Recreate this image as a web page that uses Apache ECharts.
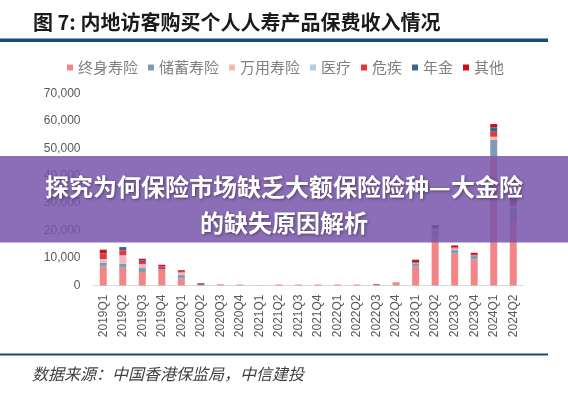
<!DOCTYPE html>
<html>
<head>
<meta charset="utf-8">
<script src="https://cdn.jsdelivr.net/npm/echarts@6/dist/echarts.min.js"></script>
<style>
html,body{margin:0;padding:0;background:#fff;}
#c{width:568px;height:400px;}
</style>
</head>
<body>
<div id="c"></div>
<script>
var categories = ['2019Q1','2019Q2','2019Q3','2019Q4','2020Q1','2020Q2','2020Q3','2020Q4','2021Q1','2021Q2','2021Q3','2021Q4','2022Q1','2022Q2','2022Q3','2022Q4','2023Q1','2023Q2','2023Q3','2023Q4','2024Q1','2024Q2'];
var seriesNames = ['终身寿险','储蓄寿险','万用寿险','医疗','危疾','年金','其他'];
var wholeLife = [6900,6450,4900,5300,2600,250,300,350,80,350,350,350,350,350,300,1000,6850,17200,11600,9550,47000,23850];
var savings   = [1450,1450,1450,400,1200,0,0,0,0,0,0,0,0,0,0,0,1200,2700,1300,1200,6000,4400];
var universal = [1000,2800,1200,0,850,0,0,0,0,0,0,0,0,0,0,0,0,300,400,0,970,500];
var medical   = [300,300,200,150,100,0,0,0,0,0,0,0,0,0,0,0,100,200,200,150,200,150];
var critical  = [2100,1800,800,1000,600,0,100,0,0,0,0,0,0,0,0,0,300,400,300,200,1830,600];
var annuity   = [100,1200,600,100,0,300,0,0,0,0,0,0,0,0,0,0,100,500,100,100,1580,1200];
var other     = [1200,0,600,600,250,250,0,0,0,0,0,0,0,0,200,100,850,700,700,700,1220,1000];
var yTicks = [0,10000,20000,30000,40000,50000,60000,70000];
var titleText = '图 7: 内地访客购买个人人寿产品保费收入情况';
var sourceText = '数据来源：中国香港保监局，中信建投';
var bannerLine1 = '探究为何保险市场缺乏大额保险险种—大金险';
var bannerLine2 = '的缺失原因解析';

var colors = ['#f38587','#7f9cb6','#f7b6b9','#b7ccd9','#e8363d','#3c6589','#c8101a'];
var dataSets = [wholeLife,savings,universal,medical,critical,annuity,other];
var CJK = '"Noto Sans CJK SC","Noto Sans",sans-serif';

var series = seriesNames.map(function(n,i){
  return {
    name:n, type:'bar', stack:'total', data:dataSets[i],
    barWidth:7, itemStyle:{color:colors[i]}, emphasis:{disabled:true}
  };
});

var chart = echarts.init(document.getElementById('c'), null, {renderer:'canvas'});
chart.setOption({
  animation:false,
  backgroundColor:'#fff',
  grid:{left:93.5,right:45,top:93.3,bottom:114.5,outerBoundsMode:'none',containLabel:false},
  legend:{
    data:seriesNames, left:67, top:59, padding:0, itemGap:10,
    icon:'rect', itemWidth:6, itemHeight:6,
    textStyle:{fontSize:15, color:'#808080', fontFamily:CJK, lineHeight:17}
  },
  xAxis:{
    type:'category', data:categories,
    axisLine:{lineStyle:{color:'#d9d9d9',width:1}},
    axisTick:{show:false},
    axisLabel:{rotate:90, fontSize:12, color:'#595959', margin:9, fontFamily:'Arial, "Liberation Sans", sans-serif', interval:0}
  },
  yAxis:{
    type:'value', min:yTicks[0], max:yTicks[yTicks.length-1], interval:yTicks[1]-yTicks[0],
    axisLine:{show:false}, axisTick:{show:false}, splitLine:{show:false},
    axisLabel:{fontSize:12, color:'#595959', margin:13, fontFamily:'Arial, "Liberation Sans", sans-serif',
      formatter:function(v){return v.toLocaleString('en-US');}}
  },
  series:series,
  graphic:[
    {type:'text', z:50, style:{text:titleText, x:33, y:22, font:'bold 20px '+CJK, fill:'#1a1a1a', textAlign:'left', textVerticalAlign:'middle', align:'left', verticalAlign:'middle'}},
    {type:'rect', z:50, shape:{x:0,y:38.5,width:548,height:3.5}, style:{fill:'#184c72'}},
    {type:'rect', z:50, shape:{x:0,y:353.5,width:548,height:2}, style:{fill:'#184c72'}},
    {type:'text', z:50, style:{text:sourceText, x:32, y:373.5, font:'italic 16px '+CJK, fill:'#404040', textAlign:'left', textVerticalAlign:'middle', align:'left', verticalAlign:'middle'}},
    {type:'rect', z:100, shape:{x:0,y:156,width:568,height:86.5}, style:{fill:'rgba(118,82,170,0.84)'}},
    {type:'text', z:101, style:{text:bannerLine1, x:284, y:186.5, font:'bold 24px '+CJK, fill:'#ffffff', textAlign:'center', textVerticalAlign:'middle', align:'center', verticalAlign:'middle', textShadowColor:'rgba(0,0,0,0.45)', textShadowBlur:3, textShadowOffsetX:1, textShadowOffsetY:1}},
    {type:'text', z:101, style:{text:bannerLine2, x:284, y:222.5, font:'bold 24px '+CJK, fill:'#ffffff', textAlign:'center', textVerticalAlign:'middle', align:'center', verticalAlign:'middle', textShadowColor:'rgba(0,0,0,0.45)', textShadowBlur:3, textShadowOffsetX:1, textShadowOffsetY:1}}
  ]
});
</script>
</body>
</html>
